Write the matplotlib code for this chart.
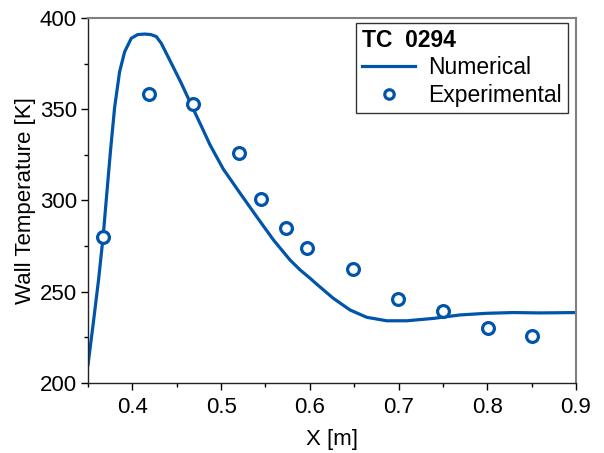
import matplotlib.pyplot as plt
import numpy as np
from matplotlib.ticker import MultipleLocator

plt.rcParams['font.family'] = ['Liberation Sans', 'DejaVu Sans']

# numerical wall temperature
x_num = [0.350, 0.356, 0.362, 0.367, 0.3729, 0.3755, 0.380, 0.3856, 0.3913, 0.3988,
         0.406, 0.4138, 0.421, 0.427, 0.4326, 0.4439, 0.4552, 0.4665, 0.4777,
         0.4875, 0.5025, 0.5214, 0.5402, 0.559, 0.5777, 0.589, 0.6003, 0.6077, 0.6265,
         0.6454, 0.6642, 0.6867, 0.7093, 0.7394, 0.7694, 0.7995, 0.8295, 0.8596, 0.900]
t_num = [210, 233, 257, 280, 313.5, 328, 351, 370.5, 381.5, 388.9,
         390.9, 391.2, 390.9, 389.8, 386.1, 375.2, 364.2, 352.3, 340.8,
         330.5, 317.2, 304, 291.1, 278.4, 267.4, 262, 257.4, 254.2, 246.4,
         240, 236, 234.1, 234.1, 235.4, 237.3, 238.2, 238.6, 238.4, 238.6]

# experimental points
x_exp = [0.367, 0.419, 0.468, 0.520, 0.545, 0.573, 0.597, 0.649, 0.699, 0.750, 0.801, 0.850]
t_exp = [280, 358.4, 353, 326, 301, 285, 274, 262.5, 246, 239.5, 230, 226]

blue = '#0055aa'

fig = plt.figure(figsize=(6.04, 4.53), dpi=100)
ax = fig.add_axes([0.1457, 0.1545, 0.8079, 0.8058])

ax.plot(x_num, t_num, color=blue, lw=2.3, label='Numerical',
        solid_joinstyle='round')
ax.plot(x_exp, t_exp, 'o', ms=8.5, mfc='white', mec=blue, mew=2.3,
        ls='none', label='Experimental')

ax.set_xlim(0.35, 0.9)
ax.set_ylim(200, 400)
ax.xaxis.set_major_locator(MultipleLocator(0.1))
ax.xaxis.set_minor_locator(MultipleLocator(0.05))
ax.yaxis.set_major_locator(MultipleLocator(50))
ax.yaxis.set_minor_locator(MultipleLocator(25))
ax.tick_params(which='both', direction='out', top=False, right=False,
               labelsize=16, width=1)
ax.tick_params(which='major', length=5)
ax.tick_params(which='minor', length=3)
ax.tick_params(axis='x', which='major', pad=5)
ax.tick_params(axis='y', which='major', pad=3)

for s in ['top', 'right']:
    ax.spines[s].set_color('#808080')
    ax.spines[s].set_linewidth(1.5)
for s in ['left', 'bottom']:
    ax.spines[s].set_color('#222222')
    ax.spines[s].set_linewidth(1.0)

ax.set_xlabel('X [m]', fontsize=16, labelpad=8)
ax.set_ylabel('Wall Temperature [K]', fontsize=16, labelpad=3)

leg = ax.legend(title='TC  0294', loc='upper right', fontsize=16.5,
                bbox_to_anchor=(0.9836, 0.9863), borderaxespad=0,
                title_fontproperties={'weight': 'bold', 'size': 16.5},
                frameon=True, fancybox=False, edgecolor='black',
                borderpad=0.25, labelspacing=0.2, handlelength=2.3,
                handletextpad=0.6, markerscale=0.8)
leg._legend_box.align = 'left'
leg.get_frame().set_linewidth(1.0)

fig.savefig('out.png', dpi=100)
